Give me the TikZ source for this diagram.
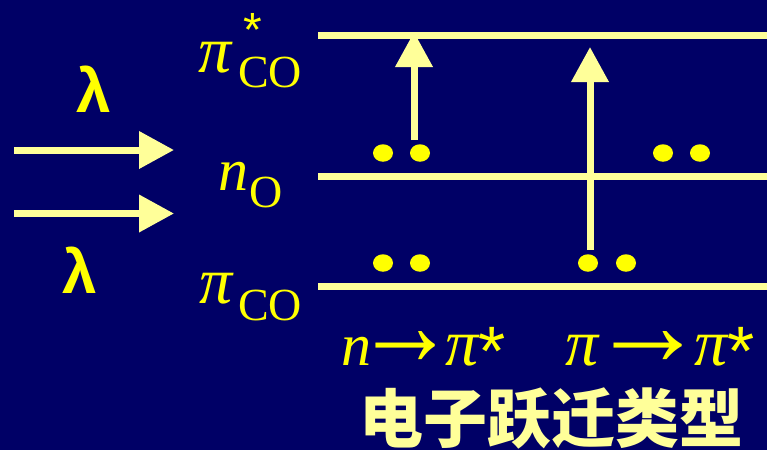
\documentclass[tikz,border=0pt]{standalone}
\usepackage{fontspec}
\usepackage{graphicx}
\setmainfont{Liberation Serif}
\newfontfamily\sansf{Liberation Sans}
\newfontfamily\cjk{Noto Sans CJK SC}
\usetikzlibrary{arrows.meta,shapes.geometric}
\definecolor{bg}{RGB}{0,0,102}
\definecolor{pale}{RGB}{255,255,153}
\definecolor{yel}{RGB}{255,255,0}
\newcommand{\bigstar}{{\sansf\fontsize{70}{74}\selectfont\raisebox{-10pt}{*}}}
\newcommand{\longarr}[2]{{\upshape\hspace{-#2}\scalebox{#1}[2]{→}\hspace{-#2}}}
\newcommand{\bigpi}{{\fontsize{66}{70}\selectfont\itshape π}}
\begin{document}
\begin{tikzpicture}[x=1pt,y=-1pt,
  level/.style={pale,line width=7pt},
  excite/.style={pale,line width=7pt,-{Triangle[length=35pt,width=36pt]}},
  elec/.style={ellipse,fill=yel,minimum width=20pt,minimum height=17.5pt,inner sep=0pt},
  lbl/.style={yel,inner sep=0pt,anchor=base west},
  bigit/.style={font=\itshape\fontsize{60}{64}\selectfont},
  piit/.style={font=\itshape\fontsize{66}{70}\selectfont},
  sub/.style={font=\fontsize{46}{50}\selectfont},
  lam/.style={yel,inner sep=0pt,anchor=base,font=\sansf\bfseries\fontsize{62}{66}\selectfont},
]
\useasboundingbox (0,0) rectangle (767,450);
\fill[bg] (0,0) rectangle (767,450);

% energy levels
\coordinate (L1a) at (318,35.5); \coordinate (L1b) at (767,35.5);
\coordinate (L2a) at (318,176.5); \coordinate (L2b) at (767,176.5);
\coordinate (L3a) at (318,286.5); \coordinate (L3b) at (767,286.5);
\draw[level] (L1a) -- (L1b);
\draw[level] (L2a) -- (L2b);
\draw[level] (L3a) -- (L3b);

% electrons
\node[elec] (e1) at (383,153) {};
\node[elec] (e2) at (420,153) {};
\node[elec] (e3) at (663,153) {};
\node[elec] (e4) at (700,153) {};
\node[elec] (e5) at (383,263) {};
\node[elec] (e6) at (420,263) {};
\node[elec] (e7) at (588,263) {};
\node[elec] (e8) at (626,263) {};

% transitions
\coordinate (t1s) at (414,140); \coordinate (t1e) at (414,32);
\coordinate (t2s) at (590,250); \coordinate (t2e) at (590,47);
\draw[excite] (t1s) -- (t1e);
\draw[excite] (t2s) -- (t2e);

% incident light
\coordinate (a1s) at (14,150); \coordinate (a1e) at (174,150);
\coordinate (a2s) at (14,213.5); \coordinate (a2e) at (174,213.5);
\draw[excite] (a1s) -- (a1e);
\draw[excite] (a2s) -- (a2e);
\node[lam] (lam1) at (93.5,112) {λ};
\node[lam] (lam2) at (80,293) {λ};

% level labels
\node[lbl,piit] (p1) at (198,72) {π};
\node[lbl,font=\sansf\fontsize{48}{52}\selectfont] (st1) at (243,46) {*};
\node[lbl,sub] (co1) at (238,87) {CO};
\node[lbl,bigit] (n1) at (218,190) {n};
\node[lbl,sub] (o1) at (249,207) {O};
\node[lbl,piit] (p2) at (199,303) {π};
\node[lbl,sub] (co2) at (238,320) {CO};

% transition labels
\node[lbl,bigit] (tr1) at (341,365)
  {n\hspace{4pt}\longarr{1.67}{20pt}\hspace{10pt}\bigpi\hspace{-3pt}\bigstar};
\node[lbl,bigit] (tr2) at (565,365)
  {\bigpi\hspace{15pt}\longarr{1.92}{23pt}\hspace{12pt}\bigpi\hspace{-3pt}\bigstar};

\node[pale,inner sep=0pt,font=\cjk\bfseries\fontsize{64}{68}\selectfont] (title) at (551.5,418) {电子跃迁类型};
\end{tikzpicture}
\end{document}
